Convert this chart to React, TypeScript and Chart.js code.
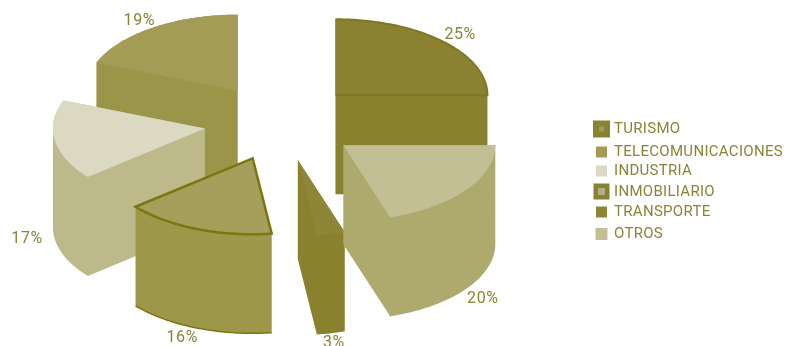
import React, { useEffect, useRef } from "react";
import { Chart, registerables } from "chart.js";

Chart.register(...registerables);

// Slices run in legend order; the projection mirrors them so they read counter-clockwise.
const categories = ["TURISMO", "TELECOMUNICACIONES", "INDUSTRIA", "INMOBILIARIO", "TRANSPORTE", "OTROS"];
const shares = [25, 19, 17, 16, 3, 20];
const topColors = ["#8a8230", "#a29c56", "#dbd9c1", "#a4a05b", "#8d8637", "#c3bf94"];
const sideColors = ["#89812e", "#9b9549", "#bdb98b", "#9d9749", "#89812d", "#aeaa6e"];
const edgeColors = ["#7f7722", "#a29c56", "#dbd9c1", "#7d7510", "#8c8534", "#c3bf94"];
const edgeWidths = [2, 0, 0, 2.5, 0, 0];

// Legend rows: vertical centre, marker size and the lighter inset of the larger markers.
const legendCentres = [129, 152, 171, 191.5, 212, 234];
const markerSizes = [17, 11, 11, 16, 11, 12];
const markerInsets = [5, 0, 0, 7, 0, 0];
const markerInsetColors = ["#a29b58", "", "", "#b5b083", "", ""];

// Small hand adjustments that keep each percentage clear of its wedge.
const labelShiftX = [1, 0, -5, -6, -2, -2];
const labelShiftY = [2, 3, -2, -1, -1, 3];

const SQUASH = 0.5;
const DEPTH = 99;
const LABEL_RADIUS = 175;
const INK = "#8a8338";

// Signed area of a polygon, used to give every wall quad the same winding.
const signedArea = (pts: number[][]) =>
  pts.reduce((sum, p, k) => {
    const q = pts[(k + 1) % pts.length];
    return sum + p[0] * q[1] - q[0] * p[1];
  }, 0);

const extrudedPie = {
  id: "extrudedPie",
  beforeDatasetDraw(chart: any, args: any) {
    const ctx: CanvasRenderingContext2D = chart.ctx;
    const values: number[] = chart.data.datasets[0].data;
    args.meta.data.forEach((arc: any, i: number) => {
      const { x, y, startAngle, endAngle, outerRadius } = arc.getProps([
        "x", "y", "startAngle", "endAngle", "outerRadius",
      ]);
      const offset = arc.options.offset;
      const mid = (startAngle + endAngle) / 2;
      const apex = [x - offset * Math.cos(mid), y + SQUASH * offset * Math.sin(mid)];

      const rim: number[][] = [];
      const steps = Math.max(4, Math.ceil(((endAngle - startAngle) * 180) / Math.PI));
      for (let s = 0; s <= steps; s++) {
        const a = startAngle + ((endAngle - startAngle) * s) / steps;
        rim.push([apex[0] - outerRadius * Math.cos(a), apex[1] + SQUASH * outerRadius * Math.sin(a)]);
      }

      const addPoly = (pts: number[][]) => {
        const ordered = signedArea(pts) < 0 ? [...pts].reverse() : pts;
        ordered.forEach(([px, py], k) => (k ? ctx.lineTo(px, py) : ctx.moveTo(px, py)));
        ctx.closePath();
      };
      const trace = (pts: number[][], close: boolean) => {
        ctx.beginPath();
        pts.forEach(([px, py], k) => (k ? ctx.lineTo(px, py) : ctx.moveTo(px, py)));
        if (close) ctx.closePath();
      };
      const drop = (pts: number[][]) => pts.map(([px, py]) => [px, py + DEPTH]);

      // Every wall quad and the underside go into one path, all wound alike, so they fill as one shape.
      const outline = [apex, ...rim];
      ctx.save();
      ctx.fillStyle = sideColors[i];
      ctx.beginPath();
      outline.forEach((p, k) => {
        const q = outline[(k + 1) % outline.length];
        addPoly([p, q, [q[0], q[1] + DEPTH], [p[0], p[1] + DEPTH]]);
      });
      addPoly(drop(outline));
      ctx.fill();

      // Top face, with the outline some slices carry.
      trace(outline, true);
      ctx.fillStyle = arc.options.backgroundColor;
      ctx.fill();
      if (arc.options.borderWidth > 0) {
        ctx.strokeStyle = arc.options.borderColor;
        ctx.lineWidth = arc.options.borderWidth;
        ctx.lineJoin = "miter";
        if (i === 0) {
          // The straight back edge of this wedge stays unmarked.
          trace(outline, false);
        }
        ctx.stroke();
        // The outlined wedge also repeats its rim along the bottom of the wall.
        if (i === 3) {
          trace(drop(rim), false);
          ctx.lineWidth = 1.5;
          ctx.stroke();
        }
      }
      ctx.restore();
    });

    // Percentage labels sit just beyond each rim; front slices drop below their wall.
    ctx.save();
    ctx.font = "400 16px Roboto";
    (ctx as any).letterSpacing = "0.6px";
    ctx.fillStyle = INK;
    ctx.textAlign = "center";
    ctx.textBaseline = "middle";
    args.meta.data.forEach((arc: any, i: number) => {
      const mid = (arc.startAngle + arc.endAngle) / 2;
      const total = arc.options.offset + LABEL_RADIUS;
      const lx = arc.x - total * Math.cos(mid) + labelShiftX[i];
      const ly = arc.y + SQUASH * total * Math.sin(mid) + (Math.sin(mid) > 0 ? DEPTH : 0) + labelShiftY[i];
      ctx.fillText(`${values[i]}%`, lx, ly);
    });
    ctx.restore();
    return false;
  },
  afterDraw(chart: any) {
    const ctx: CanvasRenderingContext2D = chart.ctx;
    const dataset = chart.data.datasets[0];
    ctx.save();
    ctx.font = "400 15px Roboto";
    (ctx as any).letterSpacing = "0.3px";
    ctx.textBaseline = "middle";
    chart.data.labels.forEach((label: string, i: number) => {
      const cy = legendCentres[i];
      const size = markerSizes[i];
      const left = 601.5 - size / 2;
      ctx.fillStyle = i === 3 ? "#8a8230" : dataset.backgroundColor[i];
      ctx.fillRect(left, cy - size / 2, size, size);
      if (markerInsets[i]) {
        const inset = markerInsets[i];
        ctx.fillStyle = markerInsetColors[i];
        ctx.fillRect(601.5 - inset / 2, cy - inset / 2, inset, inset);
      }
      ctx.fillStyle = INK;
      ctx.fillText(label, 614, cy + 0.5);
    });
    ctx.restore();
  },
};

export default function App() {
  const canvasRef = useRef<HTMLCanvasElement>(null);

  useEffect(() => {
    const chart = new Chart(canvasRef.current!, {
      type: "pie",
      data: {
        labels: categories,
        datasets: [
          {
            data: shares,
            backgroundColor: topColors,
            borderColor: edgeColors,
            borderWidth: edgeWidths,
            offset: 77,
          },
        ],
      },
      options: {
        animation: false,
        responsive: false,
        rotation: -90,
        radius: 152,
        layout: { padding: { right: 224, bottom: 101 } },
        plugins: { legend: { display: false }, tooltip: { enabled: false } },
      },
      plugins: [extrudedPie],
    } as any);
    return () => chart.destroy();
  }, []);

  return (
    <div style={{ position: "absolute", left: 0, top: 0, width: 786, height: 346, background: "#fff" }}>
      <canvas ref={canvasRef} width={786} height={346} style={{ display: "block" }} />
    </div>
  );
}
